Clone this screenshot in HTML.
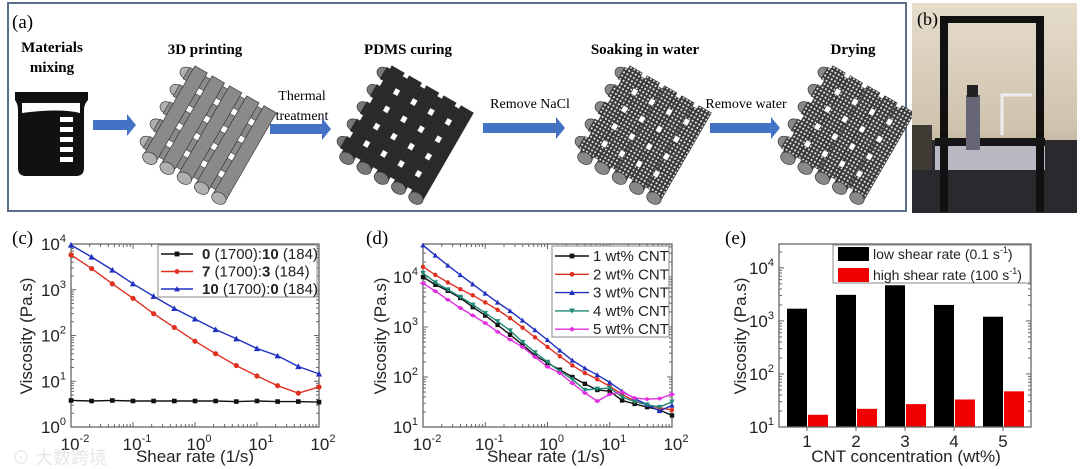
<!DOCTYPE html>
<html><head><meta charset="utf-8"><style>
html,body{margin:0;padding:0;background:#fff;}
svg{display:block;font-family:"Liberation Sans","Noto Sans CJK SC",sans-serif;}
.serif{font-family:"Liberation Serif","Noto Serif CJK SC",serif;}
</style></head><body>
<svg id="fig" width="1080" height="469" viewBox="0 0 1080 469" xmlns="http://www.w3.org/2000/svg">
<defs>
<pattern id="dots" width="4" height="4" patternUnits="userSpaceOnUse"><rect width="4" height="4" fill="#3a3a3a"/><circle cx="2" cy="2" r="1.1" fill="#e8e8e8"/></pattern>
<linearGradient id="wall" x1="0" y1="0" x2="0" y2="1"><stop offset="0" stop-color="#e6dccb"/><stop offset="0.6" stop-color="#cfc3ae"/><stop offset="1" stop-color="#8a8070"/></linearGradient>
</defs>
<g id="panelA">
<rect x="8" y="3" width="898" height="208" fill="#fff" stroke="#5a6e88" stroke-width="2"/>
<text class="serif" x="12" y="28" font-size="19">(a)</text>
<text class="serif" x="52" y="52" font-size="15" font-weight="bold" text-anchor="middle">Materials</text>
<text class="serif" x="52" y="72" font-size="15" font-weight="bold" text-anchor="middle">mixing</text>
<text class="serif" x="205" y="54" font-size="15" font-weight="bold" text-anchor="middle">3D printing</text>
<text class="serif" x="408" y="54" font-size="15" font-weight="bold" text-anchor="middle">PDMS curing</text>
<text class="serif" x="645" y="54" font-size="15" font-weight="bold" text-anchor="middle">Soaking in water</text>
<text class="serif" x="853" y="54" font-size="15" font-weight="bold" text-anchor="middle">Drying</text>
<text class="serif" x="302" y="100" font-size="14" text-anchor="middle">Thermal</text>
<text class="serif" x="302" y="120" font-size="14" text-anchor="middle">treatment</text>
<text class="serif" x="530" y="108" font-size="14" text-anchor="middle">Remove NaCl</text>
<text class="serif" x="746" y="108" font-size="14" text-anchor="middle">Remove water</text>
<g>
<path d="M15 92 H88 V100 Q84 104 84 110 V168 Q84 176 76 176 H26 Q18 176 18 168 V110 Q18 104 15 100 Z" fill="#111"/>
<path d="M22 103 H80 V113 Q60 108 22 113 Z" fill="#fff"/>
<rect x="60" y="117" width="13" height="5" fill="#fff"/><rect x="60" y="127" width="13" height="5" fill="#fff"/><rect x="60" y="137" width="13" height="5" fill="#fff"/><rect x="60" y="147" width="13" height="5" fill="#fff"/><rect x="60" y="157" width="13" height="5" fill="#fff"/>
</g>
<g id="arrows" fill="#4472c4">
<path d="M93 120 H127 V114 L136 125 L127 136 V130 H93 Z"/>
<path d="M270 124 H322 V118 L331 129 L322 140 V134 H270 Z"/>
<path d="M483 123 H556 V117 L565 128 L556 139 V133 H483 Z"/>
<path d="M710 123 H771 V117 L780 128 L771 139 V133 H710 Z"/>
</g>
<g id="lattices"></g>
</g>
<g id="panelB">
<rect x="912" y="3" width="165" height="210" fill="url(#wall)"/>
<rect x="912" y="140" width="165" height="73" fill="#2a2a2e"/>
<rect x="935" y="145" width="110" height="25" fill="#b8b8c0"/>
<rect x="940" y="17" width="8" height="195" fill="#111"/><rect x="1036" y="17" width="8" height="195" fill="#111"/>
<rect x="940" y="16" width="104" height="7" fill="#111"/>
<rect x="935" y="138" width="110" height="8" fill="#151515"/>
<rect x="966" y="95" width="14" height="55" fill="#667" />
<rect x="967" y="85" width="11" height="12" fill="#222"/>
<path d="M1002 135 V95 H1032" stroke="#eee" stroke-width="3" fill="none"/>
<rect x="912" y="125" width="20" height="45" fill="#403a35"/>
<text class="serif" x="917" y="25" font-size="18">(b)</text>
</g>
<g id="panelC"></g>
<g id="panelD"></g>
<g id="panelE"></g>
<text x="12" y="464" font-size="18" fill="#ddd" opacity="0.7">⊙ 大数跨境</text>
</svg>
<script>
// ---- chart data ----
const cShear = [0.01,0.0215,0.0464,0.1,0.215,0.464,1,2.15,4.64,10,21.5,46.4,100];
const cBlack = [3.8,3.7,3.8,3.7,3.7,3.7,3.7,3.7,3.6,3.7,3.6,3.6,3.5];
const cRed = [5800,2900,1350,650,300,150,75,40,22,13,8,5.5,7.5];
const cBlue = [9500,5200,2700,1350,720,390,230,135,85,52,36,21,14.5];
const dShear = [0.01,0.0158,0.0251,0.0398,0.0631,0.1,0.158,0.251,0.398,0.631,1,1.58,2.51,3.98,6.31,10,15.8,25.1,39.8,63.1,100];
const d1 = [10000,7000,5300,3800,2500,1700,1100,700,440,270,190,140,100,73,55,52,34,29,25,22,17];
const d2 = [16000,11000,7800,5700,4300,3100,2200,1500,970,620,400,260,170,120,90,65,45,33,28,24,22];
const d3 = [43000,27000,17000,11000,7200,4700,3100,2100,1350,870,550,340,215,150,110,78,52,37,28,21,27];
const d4 = [12000,7800,5600,4000,2800,1900,1300,850,500,310,200,130,90,55,58,60,40,32,28,25,32];
const d5 = [7500,5200,3500,2400,1700,1200,800,560,400,250,160,120,75,48,33,45,50,38,36,37,45];
const eCats = ["1","2","3","4","5"];
const eLow = [1700,3100,4700,2000,1200];
const eHigh = [17,22,27,33,47];

const NS="http://www.w3.org/2000/svg";
function mk(parent,tag,attrs){const e=document.createElementNS(NS,tag);for(const k in attrs)e.setAttribute(k,attrs[k]);parent.appendChild(e);return e;}
function logScale(d0,d1,p0,p1){const a=Math.log10(d0),b=Math.log10(d1);return v=>p0+(Math.log10(v)-a)/(b-a)*(p1-p0);}
function powLabel(g,x,y,exp,anchor){
  const t=mk(g,'text',{x:x,y:y,'font-size':17,'text-anchor':anchor,fill:'#222'});
  
  
  const a=document.createElementNS(NS,'tspan');a.textContent='10';t.appendChild(a);
  const b=document.createElementNS(NS,'tspan');b.setAttribute('dy','-8');b.setAttribute('font-size','11');b.textContent=String(exp);t.appendChild(b);
  return t;
}
function marker(g,type,x,y,color,r){
  let e;
  if(type==='sq') e=mk(g,'rect',{x:x-r,y:y-r,width:2*r,height:2*r,fill:color});
  else if(type==='ci') e=mk(g,'circle',{cx:x,cy:y,r:r,fill:color});
  else if(type==='up') e=mk(g,'path',{d:`M${x} ${y-r-0.5}L${x+r+0.5} ${y+r}L${x-r-0.5} ${y+r}Z`,fill:color});
  else if(type==='dn') e=mk(g,'path',{d:`M${x} ${y+r+0.5}L${x+r+0.5} ${y-r}L${x-r-0.5} ${y-r}Z`,fill:color});
  else e=mk(g,'path',{d:`M${x-r-1} ${y}L${x} ${y-r}L${x+r+1} ${y}L${x} ${y+r}Z`,fill:color});
  
  
}
function frame(g,L,T,R,B){
  const f=mk(g,'rect',{x:L,y:T,width:R-L,height:B-T,fill:'none',stroke:'#666','stroke-width':1.3});
  
  
}
function logYAxis(g,ys,eMin,eMax,L,R,labelX,top){
  for(let e=eMin;e<=eMax;e++){
    const y=ys(Math.pow(10,e));
    mk(g,'line',{x1:L,x2:L+5,y1:y,y2:y,stroke:'#666'});
    mk(g,'line',{x1:R,x2:R-5,y1:y,y2:y,stroke:'#666'});
    powLabel(g,labelX,y+6,e,'end');
    for(let m=2;m<10;m++){const yy=ys(m*Math.pow(10,e)); if(yy<top) break; mk(g,'line',{x1:L,x2:L+3,y1:yy,y2:yy,stroke:'#666'}); mk(g,'line',{x1:R,x2:R-3,y1:yy,y2:yy,stroke:'#666'});}
  }
}
function logXAxis(g,xs,eMin,eMax,T,B,labelY){
  for(let e=eMin;e<=eMax;e++){
    const x=xs(Math.pow(10,e));
    mk(g,'line',{x1:x,x2:x,y1:B,y2:B-5,stroke:'#666'});
    mk(g,'line',{x1:x,x2:x,y1:T,y2:T+5,stroke:'#666'});
    powLabel(g,x+4,labelY,e,'middle');
    if(e<eMax) for(let m=2;m<10;m++){const xx=xs(m*Math.pow(10,e)); mk(g,'line',{x1:xx,x2:xx,y1:B,y2:B-3,stroke:'#666'}); mk(g,'line',{x1:xx,x2:xx,y1:T,y2:T+3,stroke:'#666'});}
  }
}
function titles(g,label,lx,xt,xtx,yty,ytxt){
  const p=mk(g,'text',{x:lx,y:244,'font-size':19,class:'serif'});p.textContent=label;
  
  
  const a=mk(g,'text',{x:xtx,y:462,'font-size':17,'text-anchor':'middle',fill:'#222'});a.textContent=xt;
  
  
  const b=mk(g,'text',{x:0,y:0,'font-size':17,'text-anchor':'middle',fill:'#222',transform:`translate(${yty},336) rotate(-90)`});b.textContent=ytxt;
  
  
}
function series(g,xs,ys,xv,yv,color,mt,r,name){
  const s=mk(g,'g',{});
  
  
  mk(s,'polyline',{points:xv.map((x,i)=>xs(x)+','+ys(yv[i])).join(' '),fill:'none',stroke:color,'stroke-width':1.4});
  xv.forEach((x,i)=>marker(s,mt,xs(x),ys(yv[i]),color,r));
}

// ---- panel C ----
(function(){
  const g=document.getElementById('panelC');
  const L=71,R=319,T=244,B=427;
  const xs=logScale(0.01,100,L,R), ys=logScale(1,10000,B,T);
  titles(g,'(c)',12,'Shear rate (1/s)',195,32,'Viscosity (Pa.s)');
  frame(g,L,T,R,B);
  logYAxis(g,ys,0,4,L,R,66,T);
  logXAxis(g,xs,-2,2,T,B,450);
  series(g,xs,ys,cShear,cBlack,'#111','sq',2.3,'series-0-10');
  series(g,xs,ys,cShear,cRed,'#e03020','ci',2.6,'series-7-3');
  series(g,xs,ys,cShear,cBlue,'#2030c0','up',2.6,'series-10-0');
  const lg=mk(g,'g',{});
  
  
  mk(lg,'rect',{x:158,y:245,width:159,height:52,fill:'#fff',stroke:'#888'});
  const rows=[['#111','sq',['0','(1700):','10','(184)']],['#e03020','ci',['7','(1700):','3','(184)']],['#2030c0','up',['10','(1700):','0','(184)']]];
  rows.forEach((r,i)=>{
    const y=254+i*17.5;
    mk(lg,'line',{x1:161,x2:193,y1:y,y2:y,stroke:r[0],'stroke-width':1.4});
    marker(lg,r[1],177,y,r[0],2.4);
    const t=mk(lg,'text',{x:202,y:y+5,'font-size':15,fill:'#222'});
    
    
    t.innerHTML=`<tspan font-weight="bold">${r[2][0]}</tspan> ${r[2][1]}<tspan font-weight="bold">${r[2][2]}</tspan> ${r[2][3]}`;
  });
})();

// ---- panel D ----
(function(){
  const g=document.getElementById('panelD');
  const L=423,R=672,T=244,B=427;
  const xs=logScale(0.01,100,L,R), ys=logScale(10,Math.pow(10,4.66),B,T);
  titles(g,'(d)',366,'Shear rate (1/s)',546,386,'Viscosity (Pa.s)');
  frame(g,L,T,R,B);
  logYAxis(g,ys,1,4,L,R,418,T);
  logXAxis(g,xs,-2,2,T,B,450);
  const S=[[d1,'#111','sq','series-1wt'],[d2,'#e03020','ci','series-2wt'],[d3,'#2030c0','up','series-3wt'],[d4,'#1f8a78','dn','series-4wt'],[d5,'#e030e0','di','series-5wt']];
  S.forEach(s=>series(g,xs,ys,dShear,s[0],s[1],s[2],2.2,s[3]));
  const lg=mk(g,'g',{});
  
  
  mk(lg,'rect',{x:552,y:246,width:117,height:91,fill:'#fff',stroke:'#888'});
  S.forEach((s,i)=>{
    const y=256+i*18.3;
    mk(lg,'line',{x1:555,x2:589,y1:y,y2:y,stroke:s[1],'stroke-width':1.4});
    marker(lg,s[2],572,y,s[1],2.4);
    const t=mk(lg,'text',{x:593,y:y+5,'font-size':15,fill:'#222'});
    
    
    t.textContent=(i+1)+' wt% CNT';
  });
})();

// ---- panel E ----
(function(){
  const g=document.getElementById('panelE');
  const L=779,R=1031,T=244,B=427;
  const ys=logScale(10,Math.pow(10,4.45),B,T);
  const cx=i=>807+i*49;
  titles(g,'(e)',725,'CNT concentration (wt%)',906,746,'Viscosity (Pa.s)');
  logYAxis(g,ys,1,4,L,R,774,T);
  eCats.forEach((c,i)=>{
    const x=cx(i);
    const b1=mk(g,'rect',{x:x-20,y:ys(eLow[i]),width:20,height:B-ys(eLow[i]),fill:'#000'});
    
    
    const b2=mk(g,'rect',{x:x+1,y:ys(eHigh[i]),width:20,height:B-ys(eHigh[i]),fill:'#f00000'});
    
    
    mk(g,'line',{x1:x,x2:x,y1:B,y2:B+4,stroke:'#666'});
    const t=mk(g,'text',{x:x,y:447,'font-size':17,'text-anchor':'middle',fill:'#222'});t.textContent=c;
    
    
  });
  frame(g,L,T,R,B);
  const lg=mk(g,'g',{});
  
  
  mk(lg,'rect',{x:833,y:245,width:197,height:38,fill:'#fff',stroke:'#888'});
  [['#000','low shear rate (0.1 s','254'],['#f00000','high shear rate (100 s','275']].forEach(r=>{
    const y=+r[2];
    mk(lg,'rect',{x:838,y:y-7,width:31,height:14,fill:r[0]});
    const t=mk(lg,'text',{x:873,y:y+5,'font-size':14,fill:'#222'});
    
    
    t.innerHTML=r[1]+'<tspan dy="-6" font-size="9">-1</tspan><tspan dy="6">)</tspan>';
  });
})();

// ---- lattices (schematic) ----
(function(){
  const g=document.getElementById('lattices');
  const L=[[205,132,'#8a8a8a','#b0b0b0','lattice-3d-printed'],[402,132,'#2a2a2a','#777','lattice-pdms-cured'],[640,132,'url(#dots)','#888','lattice-soaked'],[843,132,'url(#dots)','#888','lattice-dried']];
  L.forEach(l=>{
    const s=mk(g,'g',{transform:`translate(${l[0]},${l[1]}) rotate(30) scale(0.95)`});
    
    
    for(let k=0;k<5;k++){ mk(s,'ellipse',{cx:-48,cy:-44+k*21,rx:7,ry:6,fill:l[3],stroke:'#333','stroke-width':0.7});
      mk(s,'rect',{x:-48,y:-51+k*21,width:96,height:14,fill:l[2],stroke:'#333','stroke-width':0.6});}
    for(let k=0;k<5;k++){ mk(s,'rect',{x:-44+k*21,y:-55,width:15,height:108,fill:l[2],stroke:'#333','stroke-width':0.7});
      mk(s,'ellipse',{cx:-36.5+k*21,cy:53,rx:8,ry:6,fill:l[3],stroke:'#333','stroke-width':0.7});}
  });
})();
</script>
</body></html>
